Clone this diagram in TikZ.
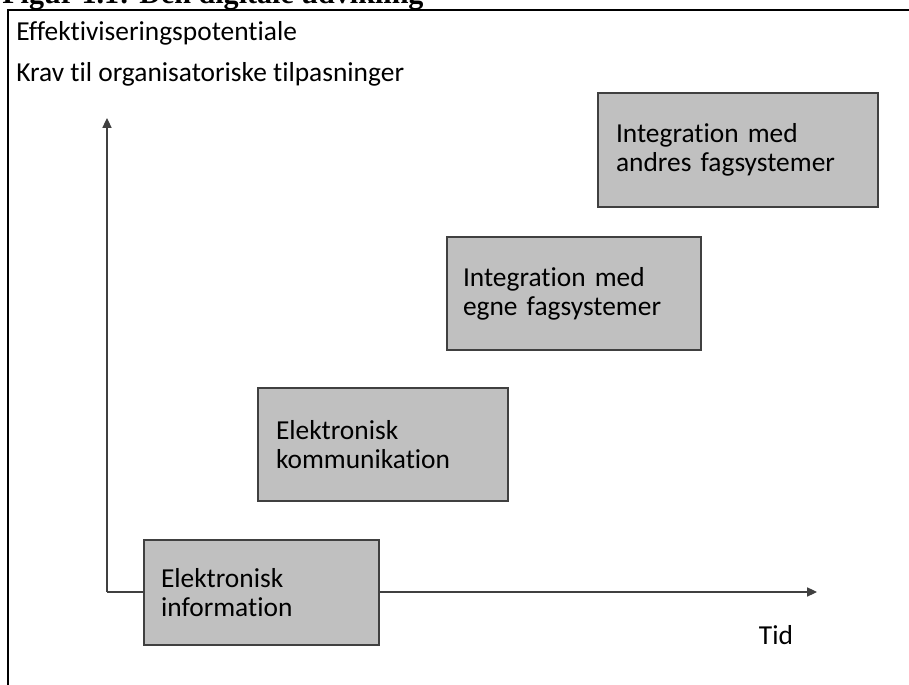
\documentclass[tikz,border=0pt]{standalone}
\usepackage{fontspec}
\setmainfont{Carlito}[Ligatures=NoCommon]
\newfontfamily\titlefont{Liberation Serif}
\usepackage{tikz}
\usetikzlibrary{positioning,arrows.meta}
\usepackage{xcolor}
\definecolor{boxgray}{HTML}{C0C0C0}
\definecolor{linegray}{HTML}{404040}

\begin{document}
\begin{tikzpicture}[
  stage/.style={draw=linegray, line width=0.8pt, fill=boxgray, align=left, inner ysep=0pt, font=\fontsize{19.5}{20.6}\selectfont},
  axis/.style={-{Triangle[length=7pt,width=6.5pt]}, draw=linegray, line width=0.8pt},
  lbl/.style={font=\fontsize{19.5}{20.6}\selectfont, anchor=base west, inner sep=0pt},
]
\useasboundingbox (0,0) rectangle (22.725,17.125);

% Caption (cut off at the top) and frame
\node[font=\titlefont\bfseries\fontsize{21.4}{24}\selectfont, anchor=base west, inner sep=0pt] (caption) at (0.05,17.03) {Figur 1.1: Den digitale udvikling};
\draw[line width=1.6pt] (0.2,-0.5) |- (23.5,16.875);

% Axis labels
\node[lbl] (effekt) at (0.4,16.1) {Effektiviseringspotentiale};
\node[lbl] (krav) at (0.4,15.075) {Krav til organisatoriske tilpasninger};
\node[lbl, anchor=center] (tid) at (19.4,1.25) {Tid};

% Axes
\coordinate (origin) at (2.675,2.325);
\coordinate (ytip) at (2.675,14.175);
\coordinate (xtip) at (20.425,2.325);
\draw[axis] (origin) -- (ytip);
\draw[axis] (origin) -- (xtip);

% Stages of the digital development
\node[stage, minimum width=5.875cm, minimum height=2.625cm, text width=5.025cm, inner xsep=0.425cm] (info) at (6.5375,2.3125) {Elektronisk\\information};
\node[stage, minimum width=6.25cm, minimum height=2.825cm, text width=5.35cm, inner xsep=0.45cm] (komm) at (9.575,6.0125) {Elektronisk\\kommunikation};
\node[stage, minimum width=6.35cm, minimum height=2.825cm, text width=5.55cm, inner xsep=0.4cm] (egne) at (14.35,9.7875) {Integration med\\egne fagsystemer};
\node[stage, minimum width=7cm, minimum height=2.85cm, text width=6.1cm, inner xsep=0.45cm] (andres) at (18.45,13.375) {Integration med\\andres fagsystemer};

\end{tikzpicture}
\end{document}
